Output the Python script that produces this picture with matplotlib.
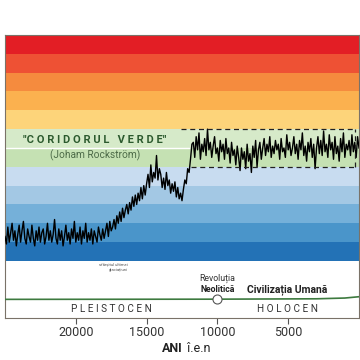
import numpy as np
import matplotlib.pyplot as plt

plt.rcParams['font.family'] = ['Roboto', 'DejaVu Sans']

# ani inainte de era noastra, pas de 100 ani
years = np.arange(25000, -1, -100)

# temperatura (in unitati de banda de culoare)
temp_glacial = [1.3, 0.9, 1.8, 1.0, 1.5, 2.0, 1.1, 1.6, 0.8, 1.4, 1.9, 1.0, 1.6, 2.1, 1.2, 0.9, 1.7, 1.3, 1.0, 1.9,
                1.2, 0.8, 1.6, 1.1, 1.8, 1.0, 1.5, 1.7, 0.9, 1.3, 2.0, 1.1, 1.6, 1.0, 1.4, 2.2, 1.2, 0.9, 1.7, 1.1,
                1.6, 0.8, 1.3, 1.9, 1.1, 1.5, 0.9, 1.7, 1.2, 2.1, 1.0, 1.5, 1.1, 1.8, 0.9, 1.6, 1.2, 2.0, 1.0, 1.5,
                1.1, 1.7, 0.9, 1.6, 1.3, 1.0, 1.8, 1.4, 1.1, 1.7, 1.2, 1.6, 2.0, 1.3, 2.1, 1.6]
temp_ramp = [1.8, 2.2, 1.7, 2.4, 2.0, 2.6, 2.1, 2.8, 2.3, 2.7, 3.0, 2.5, 3.1, 2.7, 3.4, 2.9, 3.5, 3.0, 3.6, 3.2,
             3.9, 3.3, 4.0, 3.5, 4.1]
temp_bolling = [4.6, 3.9, 5.1, 4.2, 4.7, 4.4, 5.6, 4.3, 4.9]
temp_dryas = [4.6, 3.9, 4.4, 3.8, 4.7, 4.0, 4.3, 3.6, 4.1, 3.7, 4.2, 3.4, 3.9, 3.3, 3.6, 3.2]
temp_rise = [3.8, 4.3, 4.1, 4.9, 4.7, 5.4, 6.2]
temp_holocene = [6.3, 5.5, 6.6, 5.9, 6.8, 5.4, 6.2, 5.8, 6.5, 5.6,
                 7.0, 5.9, 6.3, 5.5, 6.1, 6.6, 5.7, 6.0, 5.3, 6.4,
                 5.8, 6.2, 5.4, 6.5, 5.7, 6.0, 5.2, 6.3, 5.6, 5.9,
                 5.1, 6.1, 5.5, 4.8, 6.0, 5.4, 5.8, 4.9, 6.2, 5.3,
                 5.7, 4.7, 6.1, 5.5, 6.4, 5.0, 5.9, 6.3, 5.4, 6.0,
                 6.5, 5.6, 6.2, 5.8, 6.6, 5.5, 6.1, 5.7, 6.4, 5.9,
                 6.2, 5.4, 6.5, 5.8, 6.0, 5.5, 6.7, 5.9, 6.3, 5.6,
                 6.0, 6.6, 5.7, 6.2, 5.4, 6.4, 5.9, 6.8, 5.6, 6.1,
                 5.3, 6.3, 5.8, 6.5, 5.5, 6.2, 4.9, 6.0, 6.6, 5.7,
                 6.4, 5.6, 6.9, 5.8, 6.2, 5.5, 6.7, 5.9, 6.3, 5.4,
                 6.6, 5.7, 6.1, 5.3, 6.5, 5.8, 6.8, 5.5, 6.2, 5.9,
                 6.4, 5.6, 6.7, 5.8, 6.3, 5.5, 6.6, 6.0]
temp = temp_glacial + temp_ramp + temp_bolling + temp_dryas + temp_rise + temp_holocene

# benzile de culoare, de jos in sus
band_colors = ['#2372b6', '#4a95ca', '#75b0d9', '#a3c8e4', '#c8dcf0', '#c5e1b3',
               '#d6eac9', '#fdd47a', '#fbb14f', '#f58b3e', '#ee5134', '#e31e25']

# coridorul verde
corridor_low, corridor_high = 5, 7

# linia civilizatiei
civ_years = [25000, 10000, 3000, 1000, 0]
civ_level = [-2.04, -2.03, -2.01, -1.97, -1.9]

ticks = [20000, 15000, 10000, 5000]

fig = plt.figure(figsize=(3.6, 3.6), dpi=100)
ax = fig.add_axes([5 / 360, 42 / 360, 354 / 360, 283 / 360])

for i, c in enumerate(band_colors):
    ax.axhspan(i, i + 1, color=c, lw=0, zorder=0)
ax.hlines(6, 25000, 11900, color='white', lw=1.0, zorder=1)

ax.plot(years, temp, color='black', lw=1.0, zorder=3)

ax.hlines(corridor_high, 12550, 250, color='#222222', lw=0.9, linestyles=(0, (4, 3)), zorder=4)
ax.hlines(corridor_low, 11850, 250, color='#222222', lw=0.9, linestyles=(0, (4, 3)), zorder=4)
ax.vlines(250, corridor_low, corridor_high, color='#222222', lw=0.9, linestyles=(0, (4, 3)), zorder=4)

ax.text(18650, 6.43, '"C O R I D O R U L   V E R D E"', ha='center', va='center',
        fontsize=8, fontweight='bold', color='#2c5a2e')
ax.text(18650, 5.63, '(Joham Rockström)', ha='center', va='center', fontsize=7.3, color='#4d6b48')

ax.plot(civ_years, civ_level, color='#3d7a3f', lw=1.2, zorder=3)
ax.plot([10000], [-2.03], 'o', ms=6.5, mfc='white', mec='#555555', mew=0.8, zorder=4)

ax.text(10000, -0.9, 'Revoluția', ha='center', va='center', fontsize=6.3, color='#333333')
ax.text(10000, -1.5, 'Neolitică', ha='center', va='center', fontsize=6.3, fontweight='bold', color='#222222')
ax.text(5050, -1.5, 'Civilizația Umană', ha='center', va='center', fontsize=7.5, fontweight='bold', color='#222222')
ax.text(16300, -0.2, 'sfârșitul ultimei', ha='right', va='center', fontsize=3, color='#555555')
ax.text(16300, -0.5, 'glaciațiuni', ha='right', va='center', fontsize=3, color='#555555')

ax.text(17450, -2.55, 'P L E I S T O C E N', ha='center', va='center', fontsize=7.2, color='#333333')
ax.text(5050, -2.55, 'H O L O C E N', ha='center', va='center', fontsize=7.2, color='#333333')

ax.set_xlim(25000, 0)
ax.set_ylim(-3.03, 12)
ax.set_yticks([])
ax.set_xticks(ticks)
ax.set_xticklabels([str(t) for t in ticks], fontsize=9, color='#333333')
ax.tick_params(axis='x', length=4, width=0.8, color='#555555', pad=2)
for s in ax.spines.values():
    s.set_color('#7a7268')
    s.set_linewidth(0.8)

fig.text(183 / 360, 12 / 360, 'ANI', ha='right', va='center', fontsize=9, fontweight='bold', color='#222222')
fig.text(184 / 360, 12 / 360, ' î.e.n', ha='left', va='center', fontsize=9, color='#222222')

fig.savefig('out.png', dpi=100, facecolor='white')
